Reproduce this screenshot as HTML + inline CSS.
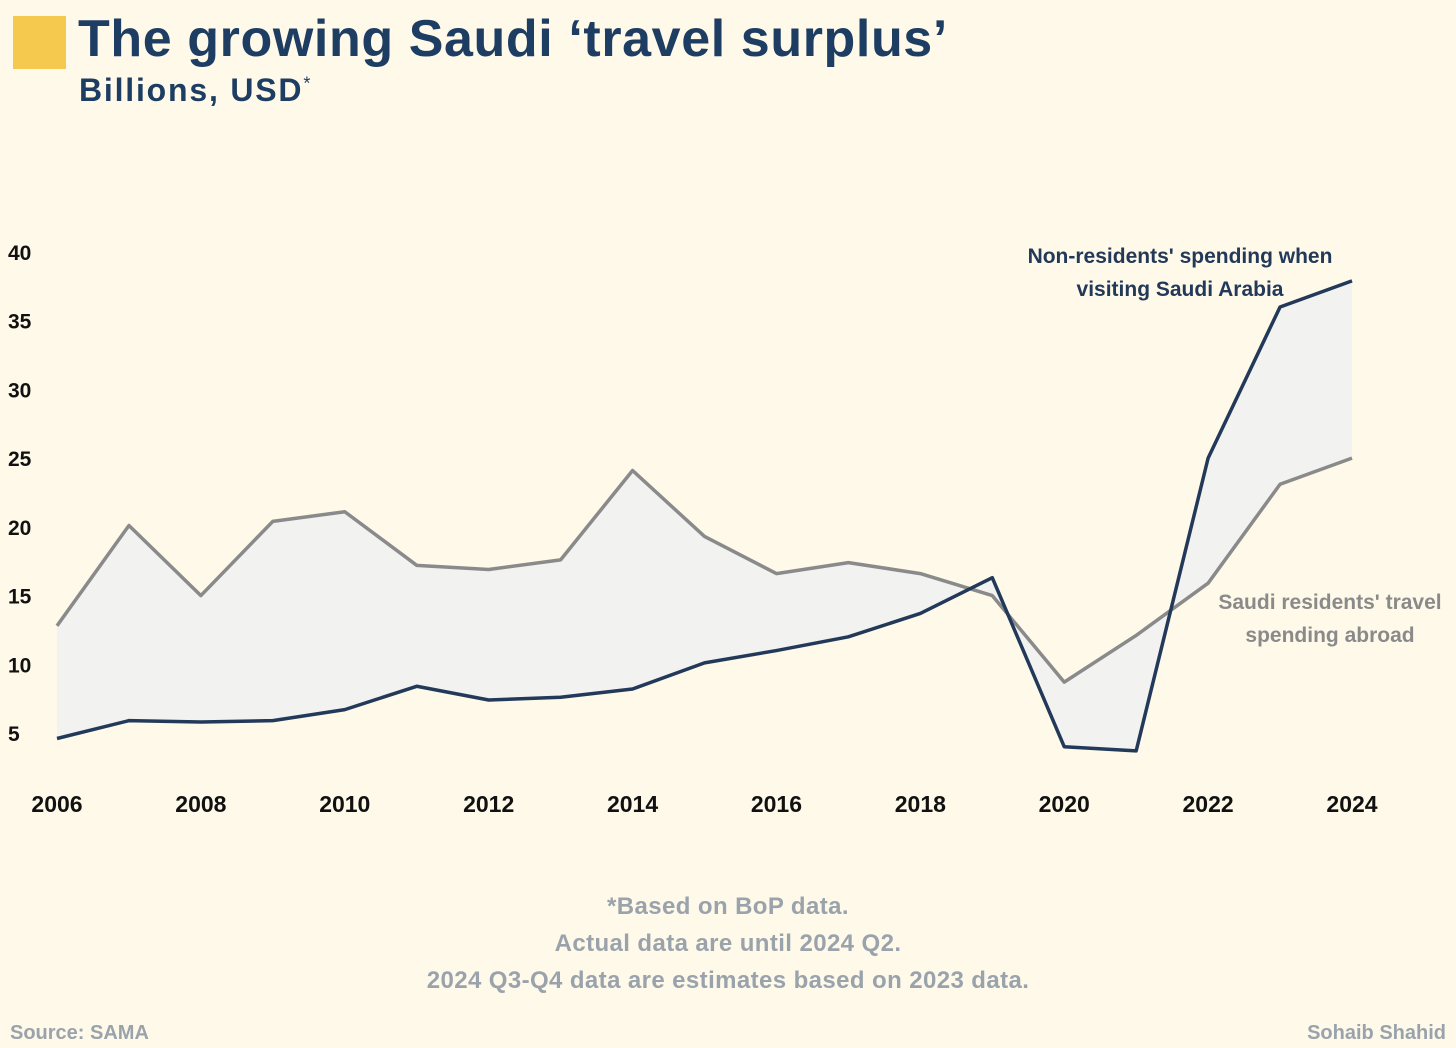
<!DOCTYPE html>
<html><head><meta charset="utf-8"><style>
body{margin:0;width:1456px;height:1048px;background:#fef9e9;font-family:"Liberation Sans",sans-serif;overflow:hidden;position:relative}
.t{position:absolute}
</style></head><body>
<div class="t" style="left:13px;top:16px;width:53px;height:53px;background:#f5c94e"></div>
<div class="t" style="left:78px;top:9px;font-size:52px;font-weight:bold;color:#1e3d63;letter-spacing:0.6px">The growing Saudi ‘travel surplus’</div>
<div class="t" style="left:79px;top:72px;font-size:32px;font-weight:bold;color:#1e3d63;letter-spacing:1.8px">Billions, USD<sup style="font-size:18px;font-weight:normal">*</sup></div>
<svg id="chart" class="t" style="left:0;top:0" width="1456" height="1048"></svg>
<div class="t" style="left:0;width:1456px;top:888px;text-align:center;font-size:24px;font-weight:bold;color:#9aa3ab;line-height:37px;letter-spacing:0.4px">*Based on BoP data.<br>Actual data are until 2024 Q2.<br>2024 Q3-Q4 data are estimates based on 2023 data.</div>
<div class="t" style="left:10px;top:1022px;font-size:20px;font-weight:bold;color:#9aa3ab">Source: SAMA</div>
<div class="t" style="right:10px;top:1022px;font-size:20px;font-weight:bold;color:#9aa3ab">Sohaib Shahid</div>
<script>
const years=[2006,2007,2008,2009,2010,2011,2012,2013,2014,2015,2016,2017,2018,2019,2020,2021,2022,2023,2024];
const nonResidents=[4.6,5.9,5.8,5.9,6.7,8.4,7.4,7.6,8.2,10.1,11.0,12.0,13.7,16.3,4.0,3.7,25.0,36.0,37.9];
const residents=[12.8,20.1,15.0,20.4,21.1,17.2,16.9,17.6,24.1,19.3,16.6,17.4,16.6,15.0,8.7,12.1,15.9,23.1,25.0];
const yTicks=[5,10,15,20,25,30,35,40];
const xTicks=[2006,2008,2010,2012,2014,2016,2018,2020,2022,2024];
const svg=document.getElementById('chart');const NS='http://www.w3.org/2000/svg';
const x=v=>57+(v-2006)*(1352-57)/18;
const y=v=>252+(40-v)*(733-252)/35;
function mk(t,a){const e=document.createElementNS(NS,t);for(const k in a)e.setAttribute(k,a[k]);svg.appendChild(e);return e;}
const fillPts=years.map((yr,i)=>x(yr)+','+y(nonResidents[i])).concat(years.slice().reverse().map((yr,j)=>x(yr)+','+y(residents[years.length-1-j])));
const area=mk('polygon',{points:fillPts.join(' '),fill:'#f2f2f0'});


const l1=mk('polyline',{points:years.map((yr,i)=>x(yr)+','+y(residents[i])).join(' '),fill:'none',stroke:'#8a8a8a','stroke-width':3.5,'stroke-linejoin':'round'});


const l2=mk('polyline',{points:years.map((yr,i)=>x(yr)+','+y(nonResidents[i])).join(' '),fill:'none',stroke:'#22395a','stroke-width':3.5,'stroke-linejoin':'round'});


yTicks.forEach(v=>{const t=mk('text',{x:8,y:y(v)+8,'font-size':21,'font-weight':'bold',fill:'#111','font-family':'Liberation Sans'});t.textContent=v;

});
xTicks.forEach(v=>{const t=mk('text',{x:x(v),y:812,'text-anchor':'middle','font-size':23,'font-weight':'bold',fill:'#111','font-family':'Liberation Sans'});t.textContent=v;

});
[['Non-residents\' spending when',1180,263,'#22395a'],['visiting Saudi Arabia',1180,296,'#22395a'],['Saudi residents\' travel',1330,609,'#8a8a8a'],['spending abroad',1330,642,'#8a8a8a']].forEach(d=>{const t=mk('text',{x:d[1],y:d[2],'text-anchor':'middle','font-size':21,'font-weight':'bold',fill:d[3],'font-family':'Liberation Sans'});t.textContent=d[0];

});
</script>
</body></html>
